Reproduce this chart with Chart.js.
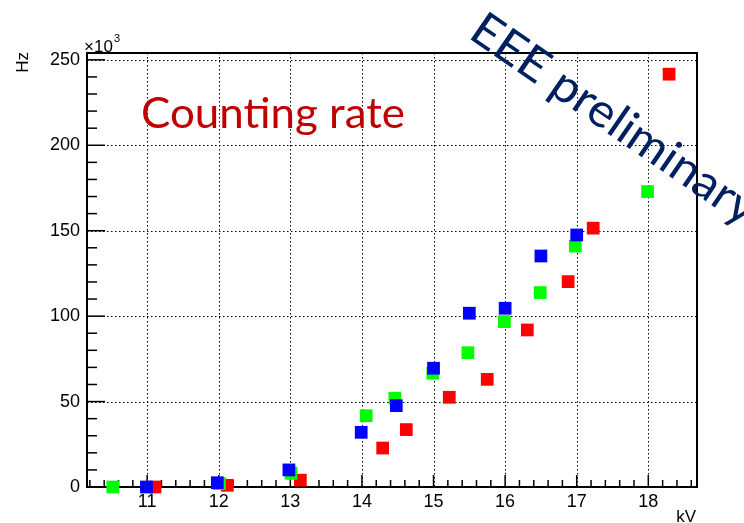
<!DOCTYPE html>
<html>
<head>
<meta charset="utf-8">
<script src="https://cdn.jsdelivr.net/npm/chart.js@4/dist/chart.umd.min.js"></script>
<style>
  body{margin:0;background:#fff;}
  #wrap{width:744px;height:523px;position:relative;}
</style>
</head>
<body>
<div id="wrap"><canvas id="chartRate"></canvas></div>
<script>
// === DATI (kV, Hz x10^3) ===
const blueKV   = [10.99, 11.98, 12.98, 13.99, 14.48, 15.0, 15.5, 16.0, 16.5, 17.0];
const blueHz   = [0,     2.5,   10,    32,    47.6,  69.5, 101.7, 104.6, 135.2, 147.5];
const greenKV  = [10.52, 12.01, 13.01, 14.06, 14.46, 14.99, 15.48, 15.99, 16.49, 16.98, 17.99];
const greenHz  = [0,     2,     8,     41.7,  52,    66.6,  78.6,  96.8,  113.8, 141,   172.9];
const redKV    = [11.11, 12.12, 13.14, 14.29, 14.62, 15.22, 15.75, 16.31, 16.88, 17.23, 18.29];
const redHz    = [0,     1,     4,     22.8,  33.6,  52.5,  63,    91.9,  120.2, 151.5, 241.6];
const xTicks   = [11, 12, 13, 14, 15, 16, 17, 18];
const yTicks   = [0, 50, 100, 150, 200, 250];

const xMin = 10.16, xMax = 18.68, yMin = 0, yMax = 254;
const tickFont = {family:"'Liberation Sans', Arial, sans-serif", size:18};

function pts(xs, ys){ return xs.map((v,i)=>({x:v, y:ys[i]})); }

// === CORNICE, TACCHE E GRIGLIA (stile ROOT) ===
const rootFrame = {
  id:"rootFrame",
  beforeDatasetsDraw(chart){
    const {ctx, chartArea:a, scales:{x, y}} = chart;
    ctx.save();
    ctx.strokeStyle = "#000";
    ctx.lineWidth = 1;
    ctx.setLineDash([1.5, 2.5]);
    xTicks.forEach(v=>{
      const px = Math.round(x.getPixelForValue(v)) + 0.5;
      ctx.beginPath(); ctx.moveTo(px, a.top); ctx.lineTo(px, a.bottom); ctx.stroke();
    });
    yTicks.filter(v=>v>0).forEach(v=>{
      const py = Math.round(y.getPixelForValue(v)) + 0.5;
      ctx.beginPath(); ctx.moveTo(a.left, py); ctx.lineTo(a.right, py); ctx.stroke();
    });
    ctx.setLineDash([]);
    ctx.lineWidth = 1.5;
    // tacche x
    for(let k = Math.ceil(xMin*5); k <= Math.floor(xMax*5); k++){
      const v = k/5;
      const px = x.getPixelForValue(v);
      const len = (k % 5 === 0) ? 12 : 7;
      ctx.beginPath(); ctx.moveTo(px, a.bottom); ctx.lineTo(px, a.bottom - len); ctx.stroke();
    }
    // tacche y
    for(let v = 10; v <= yMax; v += 10){
      const py = y.getPixelForValue(v);
      const len = (v % 50 === 0) ? 18 : 10;
      ctx.beginPath(); ctx.moveTo(a.left, py); ctx.lineTo(a.left + len, py); ctx.stroke();
    }
    ctx.lineWidth = 2;
    ctx.strokeRect(a.left, a.top, a.right - a.left, a.bottom - a.top);
    ctx.restore();
  },
  afterDraw(chart){
    const {ctx} = chart;
    ctx.save();
    ctx.fillStyle = "#000";
    ctx.font = "17px 'Liberation Sans', Arial, sans-serif";
    ctx.textAlign = "right"; ctx.textBaseline = "alphabetic";
    ctx.fillText("kV", 696, 522);
    ctx.save();
    ctx.translate(28, 52);
    ctx.rotate(-Math.PI/2);
    ctx.textAlign = "right";
    ctx.fillText("Hz", 0, 0);
    ctx.restore();
    ctx.textAlign = "left";
    ctx.font = "17px 'Liberation Sans', Arial, sans-serif";
    ctx.fillText("\u00d710", 84, 52);
    ctx.font = "11px 'Liberation Sans', Arial, sans-serif";
    ctx.fillText("3", 114, 42);

    // Counting rate
    ctx.fillStyle = "#c00000";
    ctx.font = "43px Lato, 'Open Sans', sans-serif";
    const t1 = "Counting rate";
    const w1 = ctx.measureText(t1).width;
    ctx.save();
    ctx.translate(141, 128);
    ctx.scale(264 / w1, 1);
    ctx.fillText(t1, 0, 0);
    ctx.restore();

    // EEE preliminary
    ctx.fillStyle = "#002060";
    ctx.font = "47px Lato, 'Open Sans', sans-serif";
    const t2 = "EEE preliminary";
    const w2 = ctx.measureText(t2).width;
    ctx.save();
    ctx.translate(467, 37);
    ctx.rotate(34.5 * Math.PI / 180);
    ctx.scale(336 / w2, 1);
    ctx.fillText(t2, 0, 0);
    ctx.restore();
    ctx.restore();
  }
};

new Chart(document.getElementById("chartRate"), {
  type:"scatter",
  data:{
    datasets:[
      {label:"blue",  data:pts(blueKV, blueHz),   backgroundColor:"#0000ff", clip:false},
      {label:"green", data:pts(greenKV, greenHz), backgroundColor:"#00ff00", clip:false},
      {label:"red",   data:pts(redKV, redHz),     backgroundColor:"#ff0000", clip:false}
    ]
  },
  options:{
    responsive:true, maintainAspectRatio:false, animation:false,
    layout:{padding:{top:53, right:47, left:0, bottom:0}},
    elements:{point:{pointStyle:"rect", radius:9, borderWidth:0, hoverRadius:9}},
    plugins:{legend:{display:false}, tooltip:{enabled:false}},
    scales:{
      x:{type:"linear", position:"bottom", min:xMin, max:xMax,
        ticks:{stepSize:1, includeBounds:false, font:tickFont, color:"#000", padding:4, maxRotation:0, autoSkip:false},
        grid:{display:false, drawTicks:false}, border:{display:false},
        afterFit(s){ s.height = 36; }
      },
      y:{type:"linear", min:yMin, max:yMax,
        ticks:{stepSize:50, includeBounds:false, font:tickFont, color:"#000", padding:7},
        grid:{display:false, drawTicks:false}, border:{display:false},
        afterFit(s){ s.width = 87; }
      }
    }
  },
  plugins:[rootFrame]
});
</script>
</body>
</html>
